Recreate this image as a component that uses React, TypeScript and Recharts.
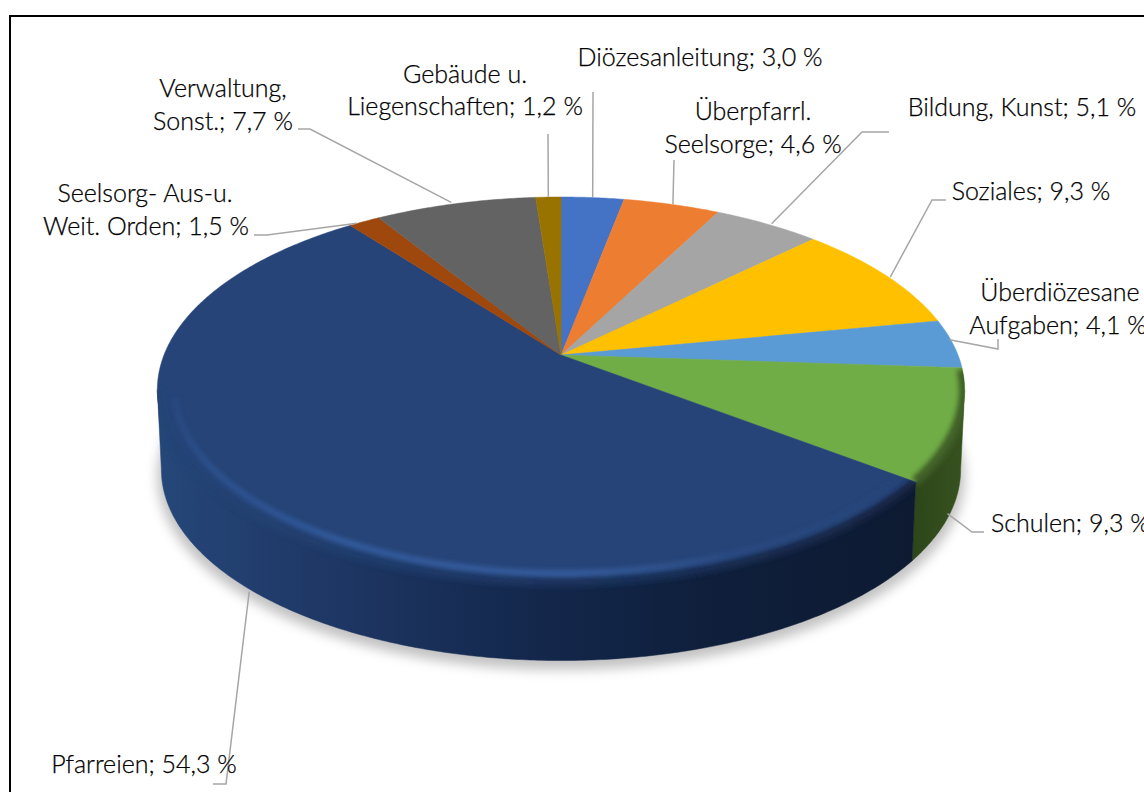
import React from "react";
import { PieChart, Pie, Cell } from "recharts";

const NAMES = [
  "Diözesanleitung",
  "Überpfarrl.\nSeelsorge",
  "Bildung, Kunst",
  "Soziales",
  "Überdiözesane\nAufgaben",
  "Schulen",
  "Pfarreien",
  "Seelsorg- Aus-u.\nWeit. Orden",
  "Verwaltung,\nSonst.",
  "Gebäude u.\nLiegenschaften",
];
const VALUES = [3.0, 4.6, 5.1, 9.3, 4.1, 9.3, 54.3, 1.5, 7.7, 1.2];
const COLORS = ["#4472C4", "#ED7D31", "#A5A5A5", "#FFC000", "#5B9BD5", "#70AD47", "#264478", "#9E480E", "#636363", "#997300"];

// label placement: each text line [x, baseline y, anchor]
const LABEL_LINES: [number, number, string][][] = [
  [[700, 66, "middle"]],
  [[753, 120, "middle"], [753, 153, "middle"]],
  [[1022, 116, "middle"]],
  [[1031, 200, "middle"]],
  [[1060, 301, "middle"], [1058, 334, "middle"]],
  [[991, 532, "start"]],
  [[144, 773, "middle"]],
  [[145, 202, "middle"], [146, 235, "middle"]],
  [[223, 97, "middle"], [223, 130, "middle"]],
  [[465, 83, "middle"], [465, 115, "middle"]],
];
// leader lines: bend points after the point on the pie rim
const LEADERS: [number, number][][] = [
  [[593, 92]],
  [[674, 160]],
  [[862, 132], [889, 132]],
  [[932, 200], [946, 200]],
  [[998, 349], [998, 339]],
  [[972, 532], [984, 532]],
  [[226, 784], [213, 784]],
  [[267, 235], [254, 235]],
  [[310, 129], [298, 129]],
  [[548, 134]],
];
// nudge of each leader's start from the projected slice midpoint
const LEADER_NUDGE: [number, number][] = [
  [0, 0], [1, 0], [4, 0], [4, 2], [-4, -4], [-8, 8], [8, 5], [-7, 2], [-4, -1], [0, 0],
];

const CX = 561;
const CY = 355;
const RADIUS = 397;
const KY = 0.47;
const P = 0.181;
const DEPTH = 80;
const BOTTOM_SCALE = 0.99;
const VIS_START = 100.4;
const VIS_END = 259.6;
const FONT = "Lato, sans-serif";

const project = (theta: number, scale = 1, dy = 0) => {
  const t = (theta * Math.PI) / 180;
  const u = Math.sin(t);
  const v = Math.cos(t);
  const w = 1 + P * v;
  return { x: CX + (scale * RADIUS * u) / w, y: CY + dy - (scale * RADIUS * KY * v) / w };
};
const arcPts = (a: number, b: number, scale = 1, dy = 0) => {
  const n = Math.max(2, Math.ceil(Math.abs(b - a) * 2));
  const out: string[] = [];
  for (let i = 0; i <= n; i++) {
    const p = project(a + ((b - a) * i) / n, scale, dy);
    out.push(`${p.x.toFixed(2)},${p.y.toFixed(2)}`);
  }
  return out;
};
const pathFrom = (pts: string[]) => "M" + pts.join("L");

const Defs = () => (
  <defs>
    <linearGradient id="wallBlue" gradientUnits="userSpaceOnUse" x1="157" y1="0" x2="910" y2="0">
      <stop offset="0" stopColor="#254779" />
      <stop offset="0.18" stopColor="#203a69" />
      <stop offset="0.45" stopColor="#152a50" />
      <stop offset="0.72" stopColor="#0f1f3c" />
      <stop offset="1" stopColor="#0d1a32" />
    </linearGradient>
    <linearGradient id="wallGreen" gradientUnits="userSpaceOnUse" x1="905" y1="0" x2="965" y2="0">
      <stop offset="0" stopColor="#2c4419" />
      <stop offset="1" stopColor="#37521f" />
    </linearGradient>
    <linearGradient id="glowBlue" gradientUnits="userSpaceOnUse" x1="157" y1="0" x2="910" y2="0">
      <stop offset="0" stopColor="#264478" />
      <stop offset="0.06" stopColor="#2c5290" />
      <stop offset="0.25" stopColor="#3560a5" />
      <stop offset="0.55" stopColor="#3a62a5" />
      <stop offset="0.78" stopColor="#2a4a82" />
      <stop offset="1" stopColor="#264478" />
    </linearGradient>
    <linearGradient id="edgeBlue" gradientUnits="userSpaceOnUse" x1="157" y1="0" x2="910" y2="0">
      <stop offset="0" stopColor="#234476" />
      <stop offset="0.4" stopColor="#1d3764" />
      <stop offset="1" stopColor="#12223f" />
    </linearGradient>
    <filter id="soft" x="-10%" y="-30%" width="120%" height="160%">
      <feGaussianBlur stdDeviation="2.5" />
    </filter>
    <filter id="softer" x="-10%" y="-10%" width="120%" height="120%">
      <feGaussianBlur stdDeviation="6" />
    </filter>
  </defs>
);

const SliceShape = (props: any) => {
  const a = 90 - props.startAngle;
  const b = 90 - props.endAngle;
  const i = VALUES.findIndex((_, k) => {
    const total = VALUES.reduce((s, x) => s + x, 0);
    const before = VALUES.slice(0, k).reduce((s, x) => s + x, 0);
    return Math.abs((before / total) * 360 - a) < 0.01;
  });
  const fill = COLORS[i];
  const va = Math.max(a, VIS_START);
  const vb = Math.min(b, VIS_END);
  const hasWall = vb > va;
  const apex = `${CX},${CY}`;
  const wallPath = hasWall
    ? pathFrom([...arcPts(va, vb), ...arcPts(vb, va, BOTTOM_SCALE, DEPTH)]) + "Z"
    : "";
  const facePath = pathFrom([apex, ...arcPts(a, b)]) + "Z";
  const clipId = `clip-${i}`;
  return (
    <g>
      {i === 0 && (
        <g>
          <Defs />
          <path
            d={pathFrom(arcPts(0, 360, 1.0, DEPTH + 7)) + "Z"}
            fill="#000"
            fillOpacity={0.24}
            filter="url(#softer)"
          />
        </g>
      )}
      {hasWall && (
        <path d={wallPath} fill={i === 6 ? "url(#wallBlue)" : "url(#wallGreen)"} stroke={i === 6 ? "url(#wallBlue)" : "url(#wallGreen)"} strokeWidth={0.5} />
      )}
      <clipPath id={clipId}>
        <path d={facePath} />
        {hasWall && <path d={wallPath} />}
      </clipPath>
      <path d={facePath} fill={fill} stroke={fill} strokeWidth={0.5} />
      {hasWall && i === 6 && (
        <g clipPath={`url(#${clipId})`}>
          <path d={pathFrom(arcPts(va, vb, 0.998))} fill="none" stroke="url(#edgeBlue)" strokeWidth={9} filter="url(#soft)" />
          <path d={pathFrom(arcPts(va + 3, vb - 3, 0.958))} fill="none" stroke="url(#glowBlue)" strokeWidth={5} filter="url(#soft)" />
        </g>
      )}
      {hasWall && i === 5 && (
        <g clipPath={`url(#${clipId})`}>
          <path d={pathFrom(arcPts(va - 6, vb, 0.998))} fill="none" stroke="#3f5f26" strokeWidth={10} filter="url(#soft)" />
        </g>
      )}
    </g>
  );
};

const textOf = (i: number) => {
  const parts = NAMES[i].split("\n");
  const valueText = `; ${VALUES[i].toFixed(1).replace(".", ",")} %`;
  parts[parts.length - 1] += valueText;
  return parts;
};

const renderLabel = (props: any) => {
  const i = props.index;
  const lines = textOf(i);
  return (
    <g key={i}>
      {lines.map((t: string, k: number) => {
        const [x, y, anchor] = LABEL_LINES[i][k];
        return (
          <text key={k} x={x} y={y} textAnchor={anchor} fontFamily={FONT} fontSize={25} fontWeight={300} fill="#000000" stroke="#000000" strokeWidth={0.25}>
            {t}
          </text>
        );
      })}
    </g>
  );
};

const renderLeader = (props: any) => {
  const i = props.index;
  const theta = 90 - props.midAngle;
  const onWall = theta > VIS_START && theta < VIS_END;
  const start = onWall ? project(theta, BOTTOM_SCALE * 1.004, DEPTH + 1) : project(theta, 1.002);
  const first = [start.x + LEADER_NUDGE[i][0], start.y + LEADER_NUDGE[i][1]];
  const pts = [first, ...LEADERS[i]].map((p) => p.join(",")).join(" ");
  return <polyline key={i} points={pts} fill="none" stroke="#A6A6A6" strokeWidth={1.5} />;
};

const DATA = NAMES.map((name, i) => ({ name, value: VALUES[i] }));

export default function App() {
  return (
    <div style={{ position: "absolute", left: 0, top: 0, width: 1144, height: 792, overflow: "hidden", background: "#fff" }}>
      <div style={{ position: "absolute", left: 9, top: 15, width: 1300, height: 1000, border: "2px solid #000" }} />
      <div style={{ position: "absolute", left: 0, top: 0 }}>
        <PieChart width={1144} height={792} margin={{ top: 0, right: 0, bottom: 0, left: 0 }}>
          <Pie
            data={DATA}
            dataKey="value"
            nameKey="name"
            cx={CX}
            cy={CY}
            innerRadius={0}
            outerRadius={RADIUS}
            startAngle={90}
            endAngle={-270}
            isAnimationActive={false}
            shape={SliceShape}
            activeShape={SliceShape}
            inactiveShape={SliceShape}
            label={renderLabel}
            labelLine={renderLeader}
            rootTabIndex={-1}
          >
            {DATA.map((d, i) => (
              <Cell key={d.name} fill={COLORS[i]} />
            ))}
          </Pie>
        </PieChart>
      </div>
    </div>
  );
}
